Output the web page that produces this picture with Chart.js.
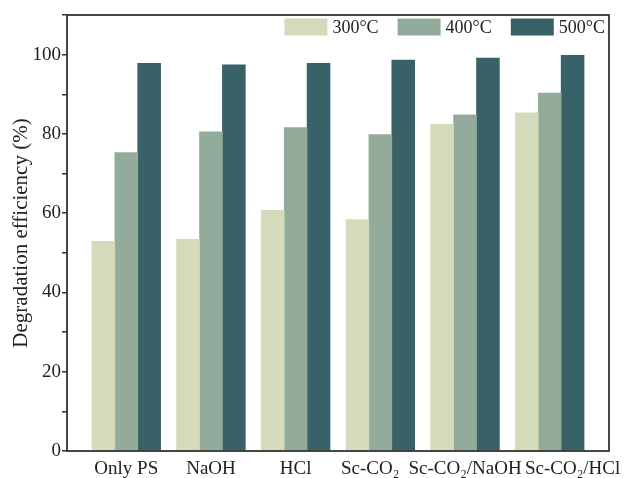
<!DOCTYPE html>
<html>
<head>
<meta charset="utf-8">
<script src="https://cdn.jsdelivr.net/npm/chart.js@4/dist/chart.umd.min.js"></script>
<style>
  html, body { margin: 0; padding: 0; background: #ffffff; }
  #wrap { width: 626px; height: 478px; }
</style>
</head>
<body>
<div id="wrap"><canvas id="c" width="626" height="478"></canvas></div>
<script>
// Treatments along the x axis
const categories = ['Only PS', 'NaOH', 'HCl', 'Sc-CO\u2082', 'Sc-CO\u2082/NaOH', 'Sc-CO\u2082/HCl'];
// Pyrolysis temperatures (one series each)
const seriesNames = ['300\u00B0C', '400\u00B0C', '500\u00B0C'];
// Degradation efficiency (%)
const eff300 = [52.9, 53.4, 60.7, 58.4, 82.4, 85.3];
const eff400 = [75.3, 80.5, 81.6, 79.8, 84.8, 90.3];
const eff500 = [97.8, 97.4, 97.8, 98.6, 99.1, 99.8];
// y-axis tick values that carry a label
const yTickLabels = [0, 20, 40, 60, 80, 100];

const colors = ['#d4dbbb', '#93ab9b', '#386168'];
const serif = '"Liberation Serif", "Times New Roman", serif';
const ink = '#222222';

// small sideways nudges (in category units) so long x labels don't collide
const labelNudge = { 3: -0.12, 5: 0.27 };

const toPoints = arr => arr.map((v, i) => ({ x: i, y: v }));

// Full frame around the plotting area
const framePlugin = {
  id: 'frame',
  afterDatasetsDraw(chart) {
    const { ctx, chartArea: a } = chart;
    ctx.save();
    ctx.strokeStyle = '#333333';
    ctx.lineWidth = 1.8;
    ctx.strokeRect(a.left, a.top, a.right - a.left, a.bottom - a.top);
    ctx.restore();
  }
};

// Legend row inside the top-right corner of the plot
const insideLegend = {
  id: 'insideLegend',
  afterDraw(chart) {
    const { ctx, chartArea: a } = chart;
    const boxW = 43, boxH = 17, textGap = 5, itemGap = 19;
    ctx.save();
    ctx.font = '18px ' + serif;
    ctx.textBaseline = 'middle';
    ctx.textAlign = 'left';
    const items = chart.data.datasets.map(ds => ({
      text: ds.label, color: ds.backgroundColor, w: ctx.measureText(ds.label).width
    }));
    const total = items.reduce((s, it) => s + boxW + textGap + it.w, 0) + itemGap * (items.length - 1);
    let x = a.right - 4 - total;
    const top = a.top + 3.5;
    items.forEach(it => {
      ctx.fillStyle = it.color;
      ctx.fillRect(x, top, boxW, boxH);
      ctx.fillStyle = ink;
      ctx.fillText(it.text, x + boxW + textGap, top + boxH / 2 + 1);
      x += boxW + textGap + it.w + itemGap;
    });
    ctx.restore();
  }
};

new Chart(document.getElementById('c'), {
  type: 'bar',
  data: {
    datasets: [
      { label: seriesNames[0], data: toPoints(eff300), backgroundColor: colors[0] },
      { label: seriesNames[1], data: toPoints(eff400), backgroundColor: colors[1] },
      { label: seriesNames[2], data: toPoints(eff500), backgroundColor: colors[2] }
    ]
  },
  options: {
    responsive: false,
    animation: false,
    layout: { padding: { left: 0, right: 17, top: 15, bottom: 0 } },
    datasets: {
      bar: { barThickness: 22.9, borderWidth: 0 }
    },
    plugins: {
      legend: { display: false },
      tooltip: { enabled: false }
    },
    scales: {
      x: {
        type: 'linear',
        offset: false,
        min: -0.7,
        max: 5.7,
        grid: { display: false, drawTicks: false, offset: false },
        border: { display: false },
        afterBuildTicks(scale) {
          // one label per treatment
          scale.ticks = categories.map((c, i) => ({ value: i + (labelNudge[i] || 0) }));
        },
        afterFit(scale) {
          scale.height = 27;
          // let the outer labels run into the page margin instead of shrinking the plot
          scale.paddingLeft = 0;
          scale.paddingRight = 0;
        },
        ticks: {
          autoSkip: false,
          maxRotation: 0,
          minRotation: 0,
          padding: 7,
          color: ink,
          font: { family: serif, size: 19 },
          callback: (v, i) => categories[i]
        }
      },
      y: {
        min: 0,
        max: 110,
        grid: { display: true, drawOnChartArea: false, drawTicks: true, tickLength: 5, color: '#333333', tickColor: '#333333', lineWidth: 1.5 },
        border: { display: false },
        afterFit(scale) { scale.width = 67; },
        ticks: {
          stepSize: 10,
          padding: 1,
          color: ink,
          font: { family: serif, size: 19 },
          callback: v => (yTickLabels.includes(v) ? String(v) : '')
        },
        title: {
          display: true,
          text: 'Degradation efficiency (%)',
          color: ink,
          font: { family: serif, size: 21 },
          padding: { top: 9, bottom: 0 }
        }
      }
    }
  },
  plugins: [framePlugin, insideLegend]
});
</script>
</body>
</html>
